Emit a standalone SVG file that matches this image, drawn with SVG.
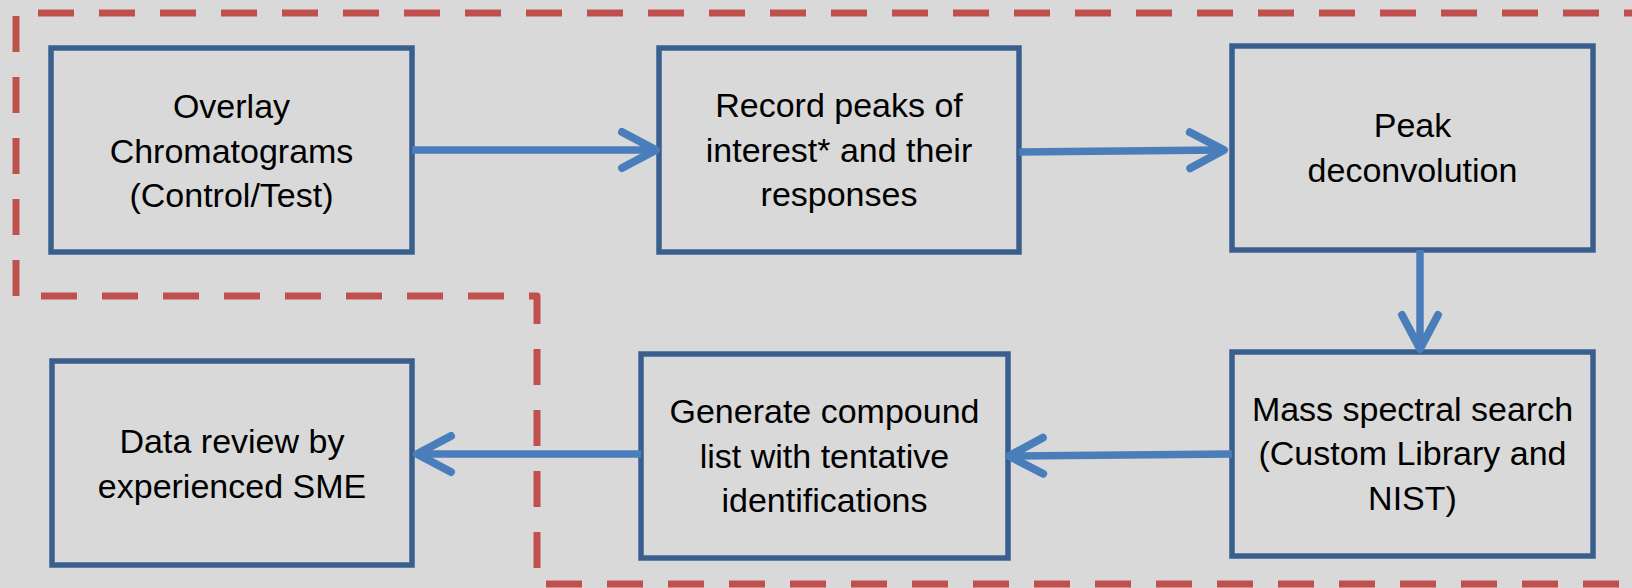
<svg xmlns="http://www.w3.org/2000/svg" width="1632" height="588" viewBox="0 0 1632 588">
<style>
.box{fill:#D9D9D9;stroke:#3A5F8E;stroke-width:5.5}
.lbl{font-family:"Liberation Sans",Arial,sans-serif;font-size:34px;fill:#000;text-anchor:middle}
.conn{stroke:#4A7EBB;stroke-width:7.5;fill:none;marker-end:url(#chev)}
.region{fill:none;stroke:#C0504D;stroke-width:7;stroke-dasharray:36 25;stroke-linejoin:round}
</style>
<defs>
<marker id="chev" markerUnits="userSpaceOnUse" viewBox="-45 -25 50 50" markerWidth="50" markerHeight="50" refX="-4" refY="0" orient="auto">
<path d="M-34,-18 L0,0 L-34,18" fill="none" stroke="#4A7EBB" stroke-width="8" stroke-linecap="round" stroke-linejoin="round"/>
</marker>
</defs>
<rect x="0" y="0" width="1632" height="588" fill="#D9D9D9"/>
<path class="region" d="M1660,13 H16 V296 H537 V584 H1660"/>
<g id="n1"><rect class="box" x="51" y="48" width="361" height="204"/>
<text class="lbl" x="231.5"><tspan x="231.5" y="118">Overlay</tspan><tspan x="231.5" y="163">Chromatograms</tspan><tspan x="231.5" y="207">(Control/Test)</tspan></text></g>
<g id="n2"><rect class="box" x="659" y="48" width="360" height="204"/>
<text class="lbl"><tspan x="839" y="117">Record peaks of</tspan><tspan x="839" y="162">interest* and their</tspan><tspan x="839" y="206">responses</tspan></text></g>
<g id="n3"><rect class="box" x="1232" y="46" width="361" height="204"/>
<text class="lbl"><tspan x="1412.5" y="137">Peak</tspan><tspan x="1412.5" y="182">deconvolution</tspan></text></g>
<g id="n4"><rect class="box" x="1232" y="352" width="361" height="204"/>
<text class="lbl"><tspan x="1412.5" y="421">Mass spectral search</tspan><tspan x="1412.5" y="465">(Custom Library and</tspan><tspan x="1412.5" y="510">NIST)</tspan></text></g>
<g id="n5"><rect class="box" x="641" y="354" width="367" height="204"/>
<text class="lbl"><tspan x="824.5" y="423">Generate compound</tspan><tspan x="824.5" y="468">list with tentative</tspan><tspan x="824.5" y="512">identifications</tspan></text></g>
<g id="n6"><rect class="box" x="52" y="361" width="360" height="204"/>
<text class="lbl"><tspan x="232" y="453">Data review by</tspan><tspan x="232" y="498">experienced SME</tspan></text></g>
<g id="connectors">
<path class="conn" d="M412,150 L652,150"/>
<path class="conn" d="M1019,152 L1220,150"/>
<path class="conn" d="M1420,250 L1420,345"/>
<path class="conn" d="M1232,454 L1013,456"/>
<path class="conn" d="M641,454 L421,454"/>
</g>
</svg>
